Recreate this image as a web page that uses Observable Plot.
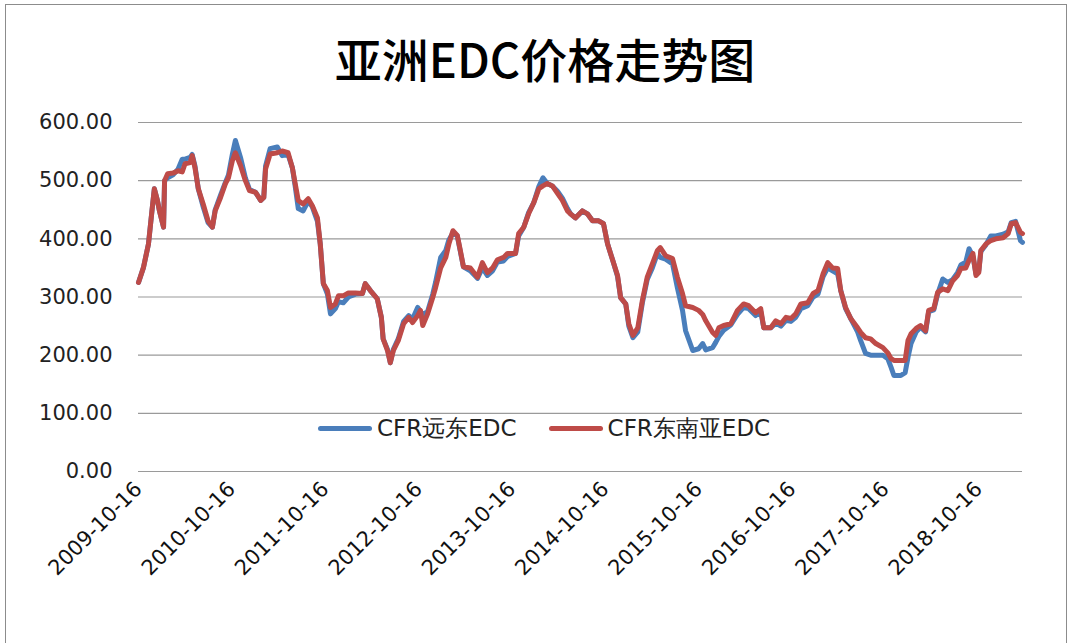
<!DOCTYPE html>
<html>
<head>
<meta charset="utf-8">
<script src="https://cdn.jsdelivr.net/npm/d3@7"></script>
<script src="https://cdn.jsdelivr.net/npm/@observablehq/plot@0.6"></script>
<style>
  html, body { margin: 0; padding: 0; background: #fff; }
  #wrap { position: relative; width: 1075px; height: 643px; overflow: hidden; background: #fff; }
  #frame { position: absolute; left: 5px; top: 4px; width: 1062px; height: 660px; border: 1.5px solid #8c8c8c; box-sizing: border-box; pointer-events: none; }
  #title { height: 100px; position: relative; }
  #title span { position: absolute; left: 0; width: 1090px; text-align: center; top: 34px; font-family: "Noto Sans CJK SC", sans-serif; font-size: 47px; line-height: 1; color: #000; font-weight: 500; }
  #legend { position: absolute; left: 318px; top: 415px; height: 26px; display: flex; align-items: center; font-family: "DejaVu Sans", sans-serif; font-size: 23px; color: #222; }
  .sw { width: 54px; height: 5px; border-radius: 3px; margin-right: 5px; }
  .item { display: flex; align-items: center; margin-right: 32px; }
</style>
</head>
<body>
<div id="wrap">
  <div id="title"><span>亚洲EDC价格走势图</span></div>
  <div id="chart"></div>
  <div id="legend"></div>
  <div id="frame"></div>
</div>
<script>
const seriesNames = ["CFR远东EDC", "CFR东南亚EDC"];
const seriesColors = ["#4a7ebb", "#be4b48"];

const dates = [
"2009-10-16","2009-11-04","2009-11-24","2009-12-09","2009-12-17","2009-12-29","2010-01-06","2010-01-22","2010-01-26","2010-02-07",
"2010-02-28","2010-03-20","2010-04-05","2010-04-16","2010-05-06","2010-05-14","2010-05-25","2010-06-07","2010-06-26","2010-07-15",
"2010-08-01","2010-08-12","2010-09-02","2010-09-21","2010-10-03","2010-10-18","2010-10-30","2010-11-19","2010-12-08","2010-12-24",
"2011-01-17","2011-02-06","2011-02-18","2011-02-25","2011-03-15","2011-04-12","2011-05-01","2011-05-24","2011-06-10","2011-06-21",
"2011-07-03","2011-07-22","2011-08-11","2011-08-27","2011-09-16","2011-09-27","2011-10-09","2011-10-25","2011-11-06","2011-11-25",
"2011-12-07","2011-12-26","2012-01-15","2012-02-12","2012-03-10","2012-03-21","2012-04-10","2012-05-07","2012-05-23","2012-05-30",
"2012-06-16","2012-06-27","2012-07-09","2012-07-28","2012-08-18","2012-09-07","2012-09-22","2012-10-12","2012-10-23","2012-11-01",
"2012-11-20","2012-12-10","2012-12-21","2013-01-10","2013-01-30","2013-02-11","2013-02-27","2013-03-16","2013-03-28","2013-04-09",
"2013-05-06","2013-06-03","2013-06-22","2013-07-12","2013-08-01","2013-08-20","2013-09-13","2013-09-29","2013-10-30","2013-11-11",
"2013-12-01","2013-12-20","2014-01-09","2014-01-29","2014-02-14","2014-03-03","2014-03-23","2014-04-12","2014-05-01","2014-05-21",
"2014-06-02","2014-06-21","2014-07-18","2014-08-07","2014-08-27","2014-09-20","2014-10-09","2014-10-25","2014-11-14","2014-12-03",
"2014-12-15","2015-01-04","2015-01-16","2015-02-01","2015-02-20","2015-03-10","2015-03-29","2015-04-18","2015-05-08","2015-05-19",
"2015-06-09","2015-07-06","2015-07-25","2015-08-14","2015-08-26","2015-09-23","2015-10-16","2015-11-01","2015-11-13","2015-12-10",
"2015-12-22","2016-01-03","2016-01-22","2016-02-19","2016-03-16","2016-04-09","2016-04-29","2016-05-26","2016-06-15","2016-06-27",
"2016-07-24","2016-08-13","2016-09-02","2016-09-22","2016-10-11","2016-10-30","2016-11-19","2016-12-16","2017-01-06","2017-01-25",
"2017-02-14","2017-03-04","2017-03-23","2017-04-12","2017-04-24","2017-05-13","2017-06-02","2017-06-29","2017-07-11","2017-07-30",
"2017-08-19","2017-09-08","2017-10-06","2017-10-25","2017-11-07","2017-11-18","2017-12-15","2018-01-01","2018-01-12","2018-01-24",
"2018-02-13","2018-03-02","2018-03-22","2018-04-03","2018-04-23","2018-05-08","2018-05-28","2018-06-17","2018-07-06","2018-07-25",
"2018-08-07","2018-08-26","2018-09-08","2018-09-23","2018-10-05","2018-10-16","2018-10-24","2018-11-13","2018-12-02","2018-12-22",
"2019-01-19","2019-02-08","2019-02-20","2019-03-09","2019-03-28","2019-04-05"
];

// CFR远东EDC (blue)
const farEast = [
325,350,391,454,486,466,448,420,500,505,
510,520,537,537,540,545,525,486,455,428,
420,450,475,497,510,545,569,540,505,485,
480,466,471,525,555,558,543,545,522,490,
452,448,465,455,430,391,323,305,271,280,
292,290,300,305,306,323,311,297,265,228,
210,187,210,228,258,268,262,282,275,270,
275,305,325,368,380,398,410,405,378,352,
345,332,350,337,345,360,362,370,375,405,
420,445,462,490,505,495,491,482,470,452,
443,436,448,443,431,431,426,391,363,335,
299,288,250,230,240,290,330,350,375,368,
365,357,316,277,242,208,211,220,209,213,
222,232,243,252,270,282,280,268,275,247,
247,255,250,260,258,265,280,285,300,305,
335,350,345,340,311,280,263,240,225,203,
200,200,200,194,179,165,165,170,196,220,
240,248,240,275,278,305,331,325,330,342,
355,360,383,370,340,345,378,390,405,405,
408,412,428,430,397,394
];

// CFR东南亚EDC (red)
const seAsia = [
325,350,391,454,486,466,448,420,500,512,
513,517,515,529,531,543,522,486,460,431,
420,448,471,495,505,534,548,526,500,483,
480,466,471,520,546,548,551,548,522,495,
466,460,469,457,436,391,323,311,282,288,
302,302,307,307,306,323,311,297,265,228,
208,187,208,225,254,265,256,268,277,251,
271,299,316,350,368,391,414,406,380,352,
350,334,359,342,350,364,368,375,375,409,
420,443,462,486,491,495,491,478,466,448,
443,436,448,443,431,431,426,391,363,337,
299,288,254,234,247,294,334,357,380,385,
371,366,334,306,285,282,277,270,259,239,
234,247,251,254,277,288,285,273,280,247,
247,259,254,265,263,271,288,290,306,311,
340,359,350,349,311,282,263,247,239,230,
228,220,213,204,194,191,191,191,225,237,
246,251,242,277,280,308,314,311,328,337,
349,350,363,375,337,342,380,391,397,400,
402,409,426,428,411,409
];

const xTickLabels = ["2009-10-16","2010-10-16","2011-10-16","2012-10-16","2013-10-16","2014-10-16","2015-10-16","2016-10-16","2017-10-16","2018-10-16"];
const yTicks = [0, 100, 200, 300, 400, 500, 600];

const data = dates.map((d, i) => ({date: new Date(d), fe: farEast[i], sea: seAsia[i]}));
const xTicks = xTickLabels.map(s => new Date(s));

const chart = Plot.plot({
  width: 1075,
  height: 543,
  marginTop: 22,
  marginBottom: 172,
  marginLeft: 138,
  marginRight: 53,
  style: {fontFamily: "DejaVu Sans, sans-serif", fontSize: "21px", color: "#222", background: "transparent"},
  x: {type: "utc", domain: [new Date("2009-10-16"), new Date("2019-04-05")]},
  y: {domain: [0, 600]},
  marks: [
    Plot.gridY(yTicks, {stroke: "#9a9a9a", strokeOpacity: 1, strokeWidth: 1.2}),
    Plot.axisY(yTicks, {tickSize: 0, tickPadding: 26, tickFormat: d3.format(".2f"), fontSize: 21, label: null, fill: "#222"}),
    Plot.axisX(xTicks, {tickSize: 0, tickPadding: 14, tickRotate: -45, tickFormat: d3.utcFormat("%Y-%m-%d"), fontSize: 21, label: null, fill: "#111"}),
    Plot.lineY(data, {x: "date", y: "fe", stroke: seriesColors[0], strokeWidth: 5, strokeLinejoin: "round", strokeLinecap: "round"}),
    Plot.lineY(data, {x: "date", y: "sea", stroke: seriesColors[1], strokeWidth: 5, strokeLinejoin: "round", strokeLinecap: "round"})
  ]
});
document.getElementById("chart").appendChild(chart);

const legend = document.getElementById("legend");
seriesNames.forEach((name, i) => {
  const item = document.createElement("div");
  item.className = "item";
  const sw = document.createElement("div");
  sw.className = "sw";
  sw.style.background = seriesColors[i];
  const t = document.createElement("span");
  t.textContent = name;
  item.appendChild(sw);
  item.appendChild(t);
  legend.appendChild(item);
});
</script>
</body>
</html>
